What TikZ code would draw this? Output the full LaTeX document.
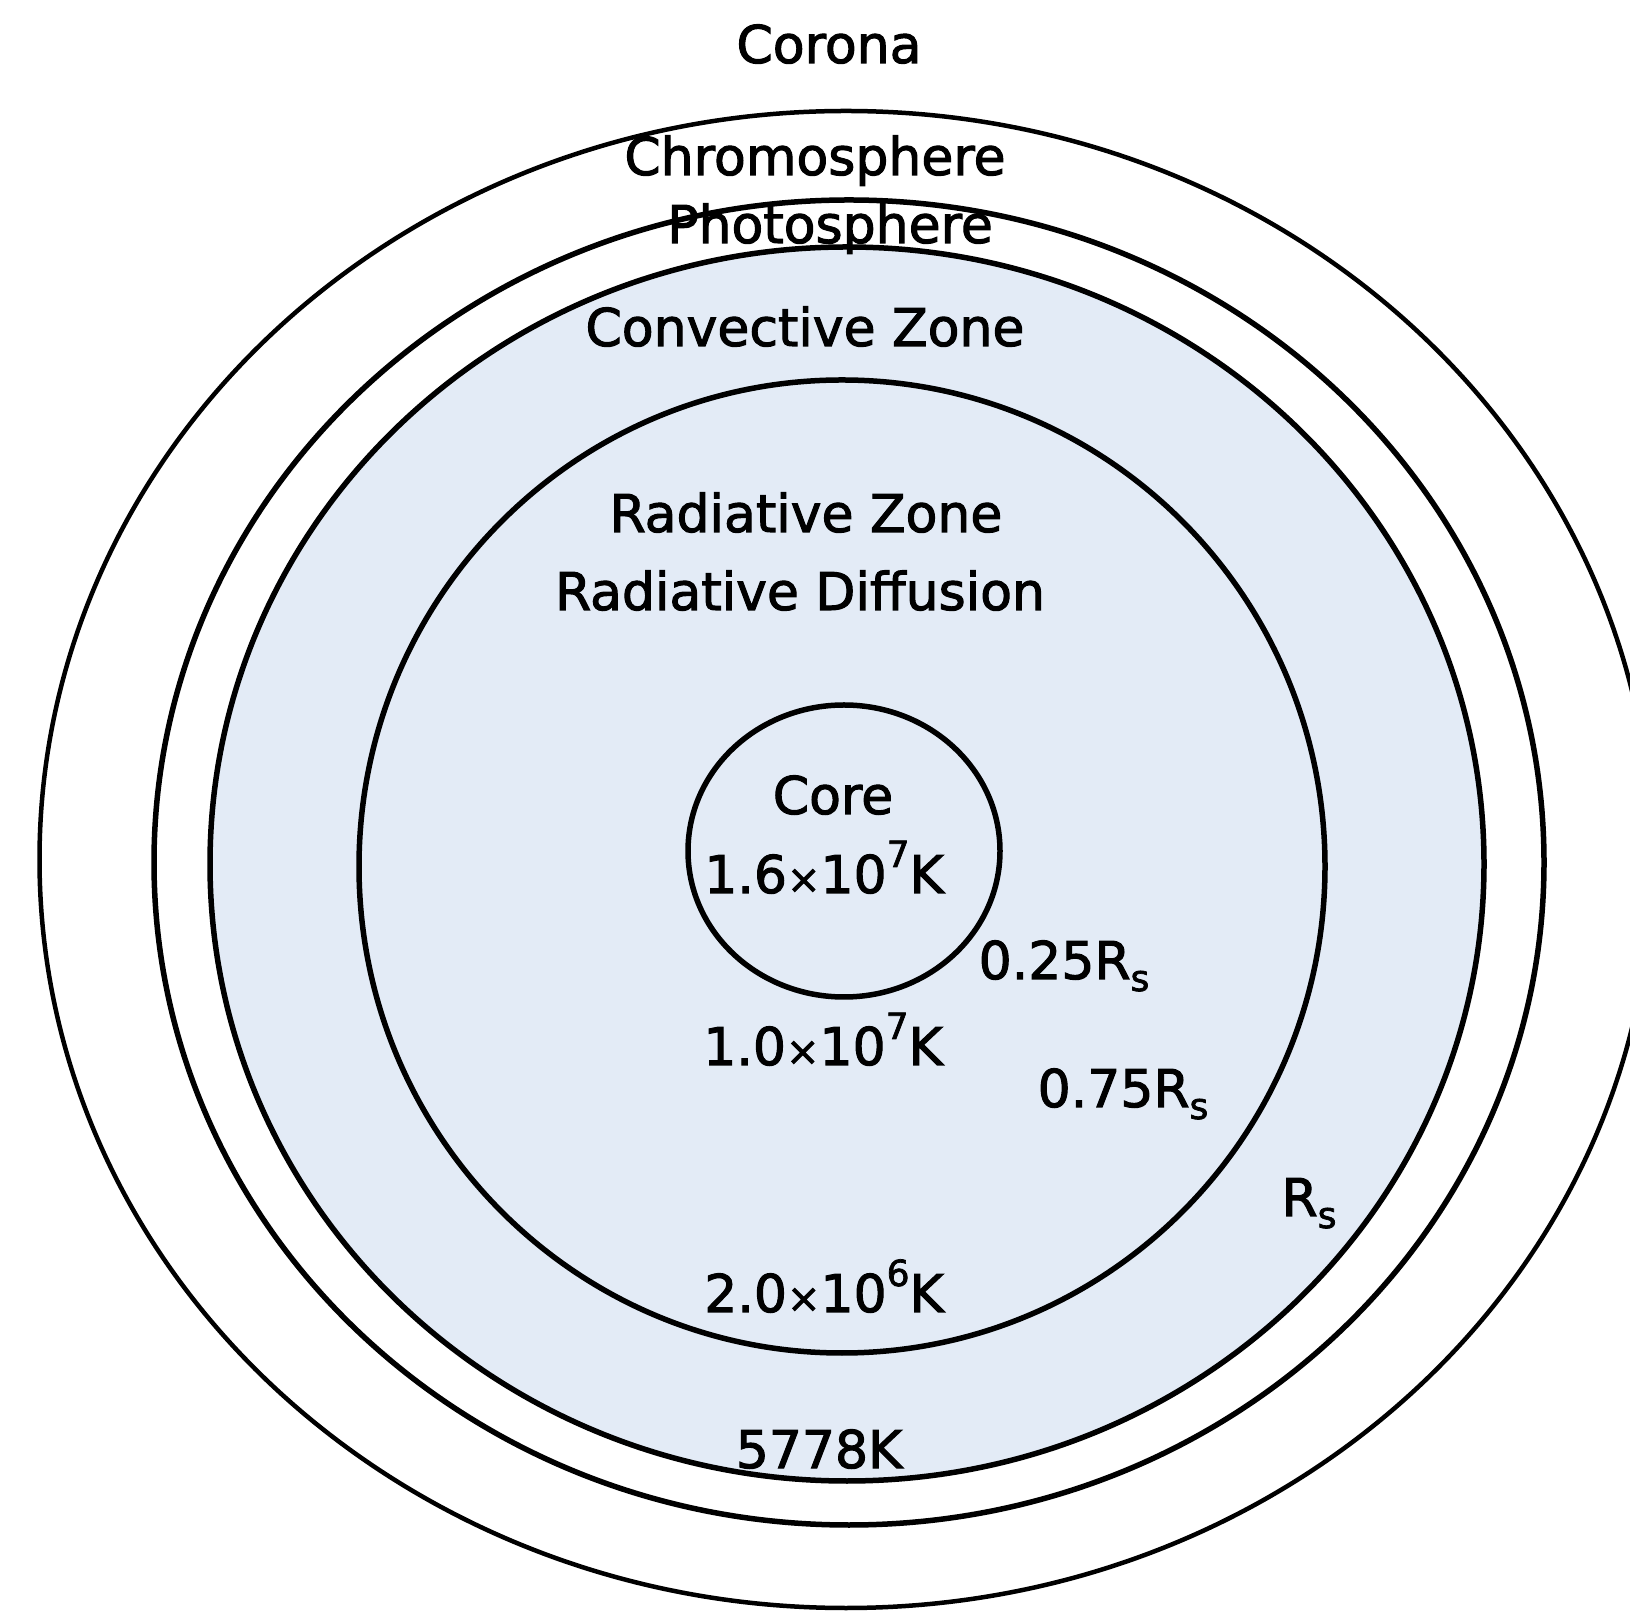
\documentclass[tikz,border=0pt]{standalone}
\usepackage{fontspec}
\setmainfont{DejaVu Sans}[UprightFeatures={FakeBold=2}]
\definecolor{zonefill}{HTML}{E3EBF6}
\newcommand{\tenpow}[1]{{\fontsize{40}{40}\selectfont ×}10\raisebox{26pt}{\fontsize{36}{36}\selectfont #1}}
\newcommand{\rsun}{R\raisebox{-12pt}{\fontsize{36}{36}\selectfont s}}

\begin{document}
\begin{tikzpicture}[
    x=1pt, y=1pt,
    shell/.style={
        draw=black,
        line width=5.5pt
    },
    zonetext/.style={
        anchor=base,
        inner sep=0pt,
        font=\fontsize{52}{60}\selectfont
    }
]

\useasboundingbox (0,0) rectangle (1630,1615);

% Filled zones
\fill[zonefill] (847,751) ellipse [x radius=637, y radius=617];

% Shells
\draw[shell, line width=4.5pt] (846,755.5) ellipse [x radius=806.5, y radius=748.5];
\draw[shell] (849,752.5) ellipse [x radius=695, y radius=662.5];
\draw[shell] (847,751) ellipse [x radius=637, y radius=617];
\draw[shell] (842,748.5) ellipse [x radius=483, y radius=486.5];
\draw[shell] (844,764) ellipse [x radius=156, y radius=146];

% Layer names
\node[zonetext] (corona) at (829,1552) {Corona};
\node[zonetext] (chromo) at (815,1440) {Chromosphere};
\node[zonetext] (photo) at (830,1372) {Photosphere};
\node[zonetext] (conv) at (805,1269) {Convective Zone};
\node[zonetext] (rad) at (806,1083) {Radiative Zone};
\node[zonetext] (diff) at (800,1005) {Radiative Diffusion};
\node[zonetext] (core) at (833,801) {Core};

% Temperatures
\node[zonetext] (tcore) at (824,722) {1.6\tenpow{7}K};
\node[zonetext] (trad) at (823,550) {1.0\tenpow{7}K};
\node[zonetext] (tconv) at (824,303) {2.0\tenpow{6}K};
\node[zonetext] (tphoto) at (819,147) {5778K};

% Radii
\node[zonetext] (r1) at (1064,636) {0.25\rsun};
\node[zonetext] (r2) at (1123,508) {0.75\rsun};
\node[zonetext] (r3) at (1309,399) {\rsun};

\end{tikzpicture}
\end{document}
